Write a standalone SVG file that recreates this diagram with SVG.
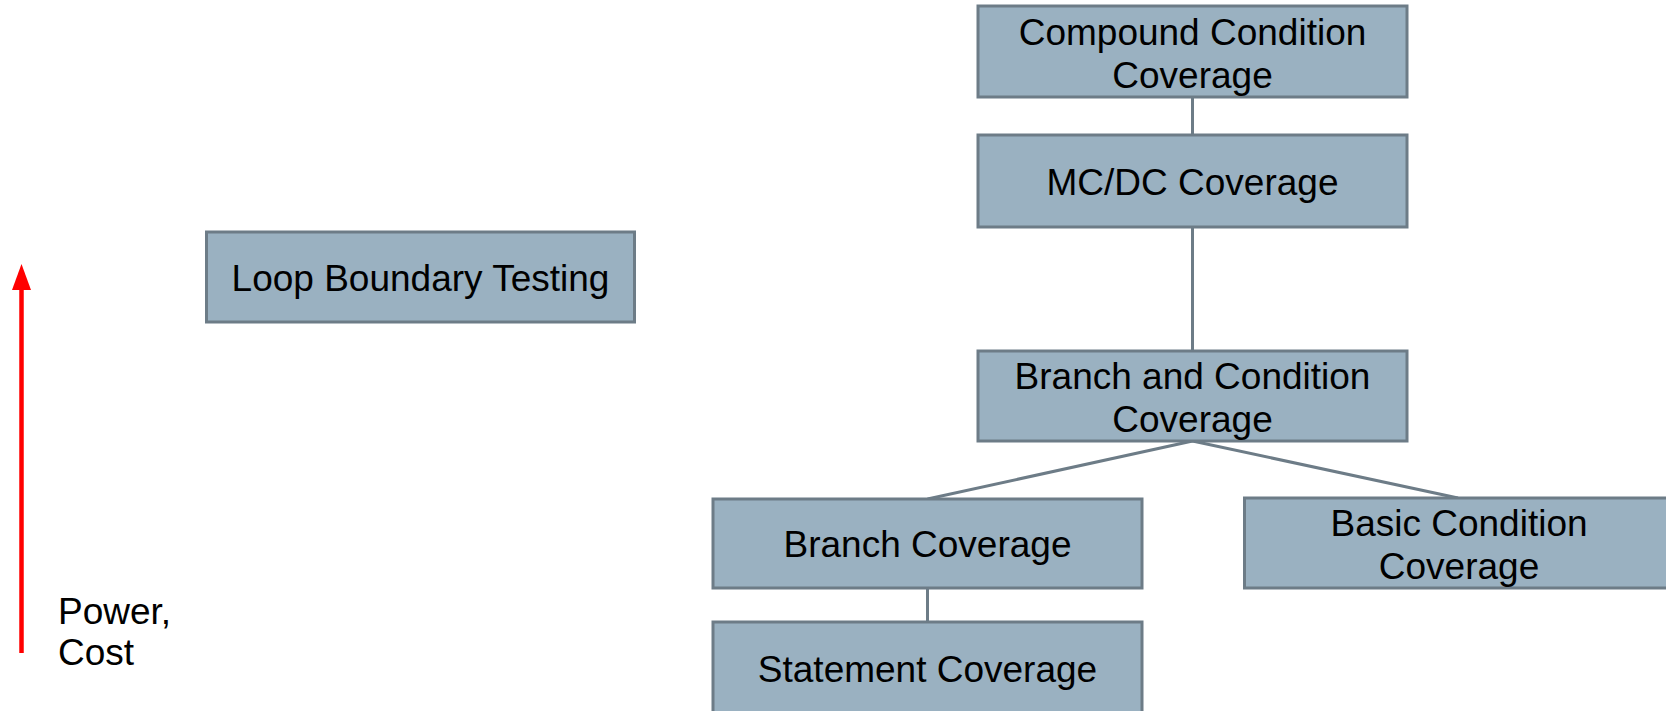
<svg xmlns="http://www.w3.org/2000/svg" width="1666" height="711" viewBox="0 0 1666 711">
  <style>
    .box { fill: #9ab1c1; stroke: #6d7c87; stroke-width: 3; }
    .lbl { font-family: "Liberation Sans", Arial, sans-serif; font-size: 37px; fill: #000; text-anchor: middle; }
    .conn { stroke: #6d7c87; stroke-width: 3; fill: none; }
    .axis { stroke: #ff0000; stroke-width: 4.5; fill: none; }
    .axlbl { font-family: "Liberation Sans", Arial, sans-serif; font-size: 37px; fill: #000; }
  </style>
  <defs>
    <marker id="redhead" markerUnits="userSpaceOnUse" markerWidth="28" markerHeight="20" refX="2" refY="10" orient="auto" viewBox="0 0 28 20">
      <path d="M0 0.5 L26 10 L0 19.5 Z" fill="#ff0000"/>
    </marker>
  </defs>
  <rect width="1666" height="711" fill="#ffffff"/>

  <g id="connectors">
    <line class="conn" x1="1192.5" y1="97" x2="1192.5" y2="135"/>
    <line class="conn" x1="1192.5" y1="227" x2="1192.5" y2="351"/>
    <line class="conn" x1="1192.5" y1="441" x2="927.5" y2="499"/>
    <line class="conn" x1="1192.5" y1="441" x2="1458" y2="498"/>
    <line class="conn" x1="927.5" y1="588" x2="927.5" y2="622"/>
  </g>

  <g id="axis">
    <line class="axis" x1="21.5" y1="653" x2="21.5" y2="288" marker-end="url(#redhead)"/>
    <text class="axlbl" x="58" y="623.5">Power,</text>
    <text class="axlbl" x="58" y="665">Cost</text>
  </g>

  <g id="node-compound">
    <rect class="box" x="978" y="6" width="429" height="91"/>
    <text class="lbl" x="1192.5" y="44.5">Compound Condition</text>
    <text class="lbl" x="1192.5" y="87.5">Coverage</text>
  </g>

  <g id="node-mcdc">
    <rect class="box" x="978" y="135" width="429" height="92"/>
    <text class="lbl" x="1192.5" y="194.5">MC/DC Coverage</text>
  </g>

  <g id="node-branch-condition">
    <rect class="box" x="978" y="351" width="429" height="90"/>
    <text class="lbl" x="1192.5" y="388.5">Branch and Condition</text>
    <text class="lbl" x="1192.5" y="431.5">Coverage</text>
  </g>

  <g id="node-branch">
    <rect class="box" x="713" y="499" width="429" height="89"/>
    <text class="lbl" x="927.5" y="557">Branch Coverage</text>
  </g>

  <g id="node-basic-condition">
    <rect class="box" x="1244.5" y="498" width="429" height="90"/>
    <text class="lbl" x="1459" y="535.5">Basic Condition</text>
    <text class="lbl" x="1459" y="578.5">Coverage</text>
  </g>

  <g id="node-statement">
    <rect class="box" x="713" y="622" width="429" height="92"/>
    <text class="lbl" x="927.5" y="681.5">Statement Coverage</text>
  </g>

  <g id="node-loop">
    <rect class="box" x="206.5" y="232" width="428" height="90"/>
    <text class="lbl" x="420.5" y="290.5">Loop Boundary Testing</text>
  </g>
</svg>
